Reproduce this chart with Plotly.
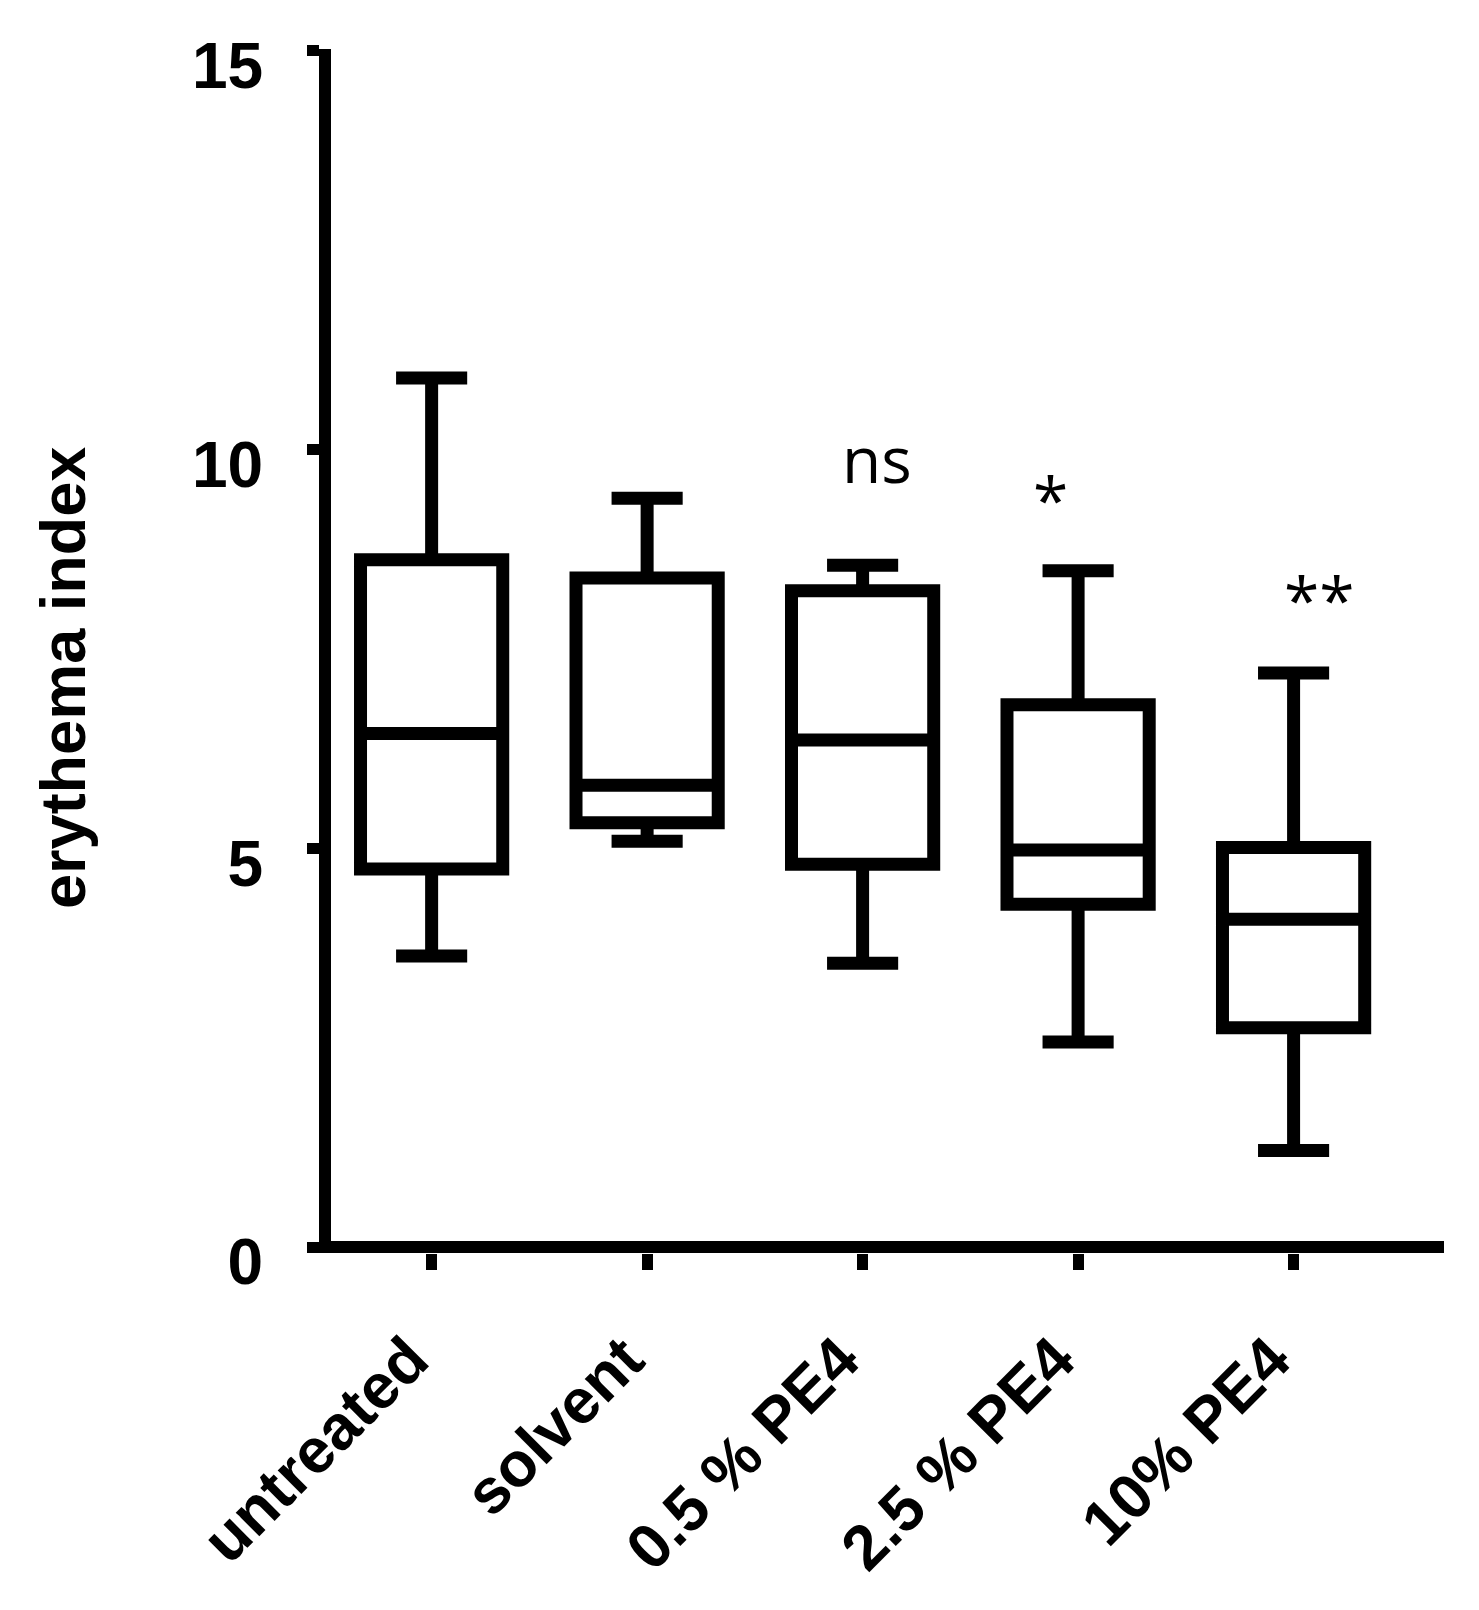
import plotly.graph_objects as go

groups = ["untreated", "solvent", "0.5 % PE4", "2.5 % PE4", "10% PE4"]
upper = [10.90, 9.39, 8.55, 8.48, 7.20]
q3 = [8.62, 8.39, 8.23, 6.80, 5.01]
median = [6.44, 5.79, 6.36, 4.98, 4.11]
q1 = [4.74, 5.32, 4.80, 4.30, 2.75]
lower = [3.65, 5.09, 3.56, 2.57, 1.21]
sig_labels = ["ns", "*", "**"]
y_ticks = [0, 5, 10, 15]

box = go.Box(
    x=groups, q1=q1, median=median, q3=q3,
    lowerfence=lower, upperfence=upper,
    boxpoints=False, width=0.66, whiskerwidth=0.5,
    fillcolor="rgba(0,0,0,0)",
    line=dict(color="black", width=13),
    hoverinfo="y",
)

fig = go.Figure(data=[box])

bold = dict(family="Liberation Sans, Arial, sans-serif", size=63,
            color="black", weight="bold")

fig.update_layout(
    width=1479, height=1610,
    margin=dict(l=323, r=43, t=41, b=365),
    paper_bgcolor="white", plot_bgcolor="white",
    showlegend=False,
    xaxis=dict(
        range=[-0.467, 4.698], showgrid=False, showline=False,
        ticks="outside", ticklen=16, tickwidth=11, tickcolor="black",
        tickangle=-45, tickfont=dict(bold, size=63),
        ticklabelstandoff=27, ticklabelshift=-22,
    ),
    yaxis=dict(
        range=[-0.075, 15.025], showgrid=False,
        showline=True, linewidth=12, linecolor="black",
        zeroline=True, zerolinewidth=12, zerolinecolor="black",
        ticks="outside", ticklen=12, tickwidth=11, tickcolor="black",
        tickvals=y_ticks, tickfont=dict(bold, size=64),
        ticklabelstandoff=31, ticklabelshift=15,
        ticklabeloverflow="allow",
    ),
)

sig_font = dict(family="Open Sans, sans-serif", size=64, color="black")
fig.add_annotation(x=groups[2], y=9.89, text=sig_labels[0], showarrow=False,
                   xshift=14, font=sig_font)
fig.add_annotation(x=groups[3], y=9.37, text=sig_labels[1], showarrow=False,
                   xshift=-28, font=sig_font)
fig.add_annotation(x=groups[4], y=8.12, text=sig_labels[2], showarrow=False,
                   xshift=26, font=sig_font)

# y title as annotation so it sits a bit below the plot middle, like the original
fig.add_annotation(xref="paper", yref="paper", x=-0.2408, y=0.4776,
                   xanchor="center", yanchor="middle",
                   text="erythema index", textangle=-90, showarrow=False,
                   font=bold)

fig.write_html("out.html")
